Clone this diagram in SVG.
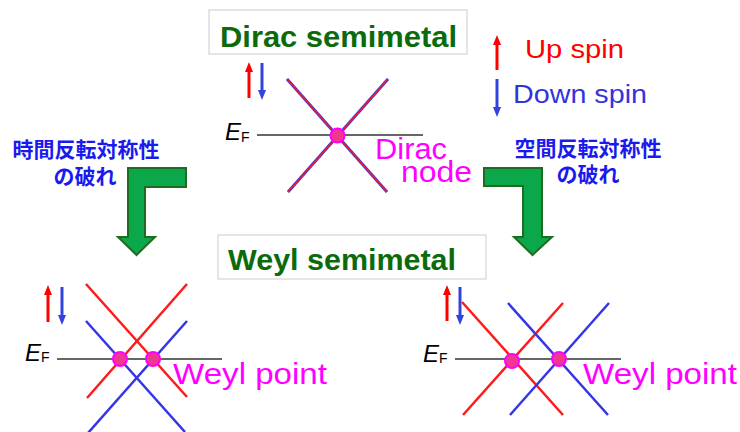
<svg xmlns="http://www.w3.org/2000/svg" width="740" height="432" viewBox="0 0 740 432">
<style>
.title{font-family:"Liberation Sans",Arial,sans-serif;font-weight:bold;font-size:30px;fill:#0b6b0b}
.box{fill:#fff;stroke:#cccccc;stroke-width:1}
.lbl{font-family:"Liberation Sans",Arial,sans-serif;font-size:29px;fill:#ff00ff}
.leg{font-family:"Liberation Sans",Arial,sans-serif;font-size:25px}
.jp{font-family:"Liberation Sans","Noto Sans CJK JP",sans-serif;font-weight:bold;font-size:21px;fill:#1a1aee;text-anchor:middle}
.ef{font-family:"Liberation Sans",Arial,sans-serif;fill:#000}
.efl{stroke:#333;stroke-width:1.5}
.r{stroke:#ff1a1a;stroke-width:2.5;fill:none}
.b{stroke:#3535e6;stroke-width:2.5;fill:none}
.dot{fill:#f0388f;stroke:#ff00ff;stroke-width:2}
.big{fill:#0aa84a;stroke:#1f6b1f;stroke-width:2;stroke-linejoin:miter}
.sr{stroke:#ff0000;stroke-width:3}
.sb{stroke:#3344dd;stroke-width:3}
</style>
<defs>
<marker id="hr" viewBox="0 0 10 8" refX="1" refY="4" markerWidth="10" markerHeight="8" markerUnits="userSpaceOnUse" orient="auto"><path d="M0,0 L10,4 L0,8 Z" fill="#ff0000"/></marker>
<marker id="hb" viewBox="0 0 10 8" refX="1" refY="4" markerWidth="10" markerHeight="8" markerUnits="userSpaceOnUse" orient="auto"><path d="M0,0 L10,4 L0,8 Z" fill="#3344dd"/></marker>
</defs>

<g id="dirac-title">
<rect class="box" x="209" y="10" width="258" height="44"/>
<text class="title" x="220" y="47" textLength="237" lengthAdjust="spacingAndGlyphs">Dirac semimetal</text>
</g>

<g id="legend">
<line class="sr" x1="497" y1="70" x2="497" y2="44" marker-end="url(#hr)"/>
<text class="leg" x="525" y="58" fill="#ff0000" textLength="99" lengthAdjust="spacingAndGlyphs">Up spin</text>
<line class="sb" x1="497" y1="79" x2="497" y2="108" marker-end="url(#hb)"/>
<text class="leg" x="513" y="103" fill="#3333dd" textLength="134" lengthAdjust="spacingAndGlyphs">Down spin</text>
</g>

<g id="dirac-diagram">
<line class="sr" x1="249" y1="98" x2="249" y2="71" marker-end="url(#hr)"/>
<line class="sb" x1="262" y1="63" x2="262" y2="91" marker-end="url(#hb)"/>
<text class="ef" x="225" y="140" font-size="24" font-style="italic">E</text>
<text class="ef" x="241" y="142" font-size="14">F</text>
<line class="efl" x1="257" y1="135" x2="423" y2="135"/>
<line x1="287" y1="79" x2="387" y2="192" stroke="#3535e6" stroke-width="3"/>
<line x1="388" y1="79" x2="288" y2="192" stroke="#3535e6" stroke-width="3"/>
<line x1="287" y1="79" x2="387" y2="192" stroke="#ff1a1a" stroke-width="1.4"/>
<line x1="388" y1="79" x2="288" y2="192" stroke="#ff1a1a" stroke-width="1.4"/>
<circle class="dot" cx="337.5" cy="135.5" r="7"/>
<text class="lbl" x="375" y="159" textLength="72" lengthAdjust="spacingAndGlyphs">Dirac</text>
<text class="lbl" x="401" y="182" textLength="71" lengthAdjust="spacingAndGlyphs">node</text>
</g>

<g id="left-break">
<text class="jp" x="86" y="157">時間反転対称性</text>
<text class="jp" x="85" y="184">の破れ</text>
</g>

<g id="right-break">
<text class="jp" x="588" y="156">空間反転対称性</text>
<text class="jp" x="588" y="182">の破れ</text>
</g>

<g id="connectors">
<polygon class="big" points="128,168 186,168 186,187 145,187 145,237 155,237 136.5,255 118,237 128,237"/>
<polygon class="big" points="542,168 484,168 484,186 523,186 523,237 514,237 532.5,255 552,237 542,237"/>
</g>

<g id="weyl-title">
<rect class="box" x="218" y="235" width="268" height="44"/>
<text class="title" x="228" y="270" textLength="228" lengthAdjust="spacingAndGlyphs">Weyl semimetal</text>
</g>

<g id="weyl-left">
<line class="sr" x1="48" y1="322" x2="48" y2="294" marker-end="url(#hr)"/>
<line class="sb" x1="62" y1="287" x2="62" y2="316" marker-end="url(#hb)"/>
<text class="ef" x="25" y="361" font-size="24" font-style="italic">E</text>
<text class="ef" x="41" y="362" font-size="14">F</text>
<line class="efl" x1="57" y1="359" x2="222" y2="359"/>
<line class="r" x1="86" y1="284" x2="187" y2="397"/>
<line class="r" x1="187" y1="284" x2="87" y2="398"/>
<line class="b" x1="86" y1="321" x2="185" y2="432"/>
<line class="b" x1="187" y1="321" x2="88" y2="433"/>
<circle class="dot" cx="120" cy="359" r="7"/>
<circle class="dot" cx="153" cy="359" r="7"/>
<text class="lbl" x="173" y="384" textLength="154" lengthAdjust="spacingAndGlyphs">Weyl point</text>
</g>

<g id="weyl-right">
<line class="sr" x1="447" y1="321" x2="447" y2="294" marker-end="url(#hr)"/>
<line class="sb" x1="460" y1="287" x2="460" y2="316" marker-end="url(#hb)"/>
<text class="ef" x="423" y="362" font-size="24" font-style="italic">E</text>
<text class="ef" x="439" y="363" font-size="14">F</text>
<line class="efl" x1="455" y1="359" x2="621" y2="359"/>
<line class="r" x1="462" y1="302" x2="563" y2="415"/>
<line class="r" x1="563" y1="303" x2="463" y2="415"/>
<line class="b" x1="508" y1="303" x2="608" y2="415"/>
<line class="b" x1="609" y1="303" x2="510" y2="415"/>
<circle class="dot" cx="512" cy="361" r="7"/>
<circle class="dot" cx="559" cy="359" r="7"/>
<text class="lbl" x="583" y="384" textLength="154" lengthAdjust="spacingAndGlyphs">Weyl point</text>
</g>
</svg>
